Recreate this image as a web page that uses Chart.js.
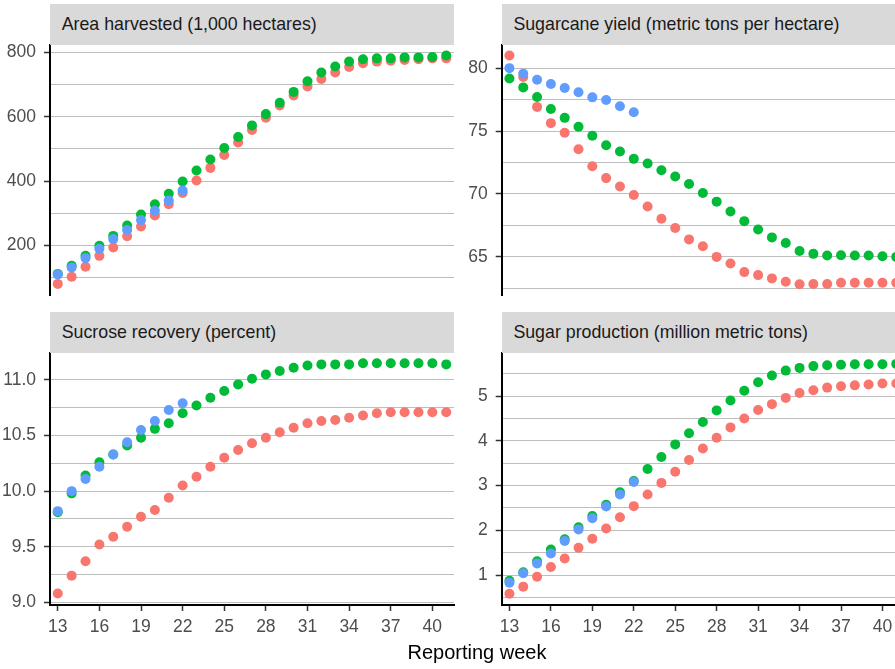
<!DOCTYPE html>
<html>
<head>
<meta charset="utf-8">
<title>Sugarcane harvest progress by reporting week</title>
<script src="https://cdn.jsdelivr.net/npm/chart.js@4.4.1/dist/chart.umd.min.js"></script>
<style>
  html, body { margin: 0; padding: 0; background: #ffffff; }
  body {
    width: 895px; height: 669px; overflow: hidden; position: relative;
    font-family: "Liberation Sans", Arial, sans-serif;
  }
  canvas { position: absolute; }
  .strip {
    position: absolute; background: #D9D9D9; color: #1A1A1A;
    font-size: 17.8px; height: 40.7px; line-height: 40.7px;
    padding-left: 11.7px; box-sizing: border-box; white-space: nowrap;
  }
  #xtitle {
    position: absolute; left: 327px; width: 300px; top: 640px;
    text-align: center; font-size: 20px; line-height: 24px; color: #000000;
  }
</style>
</head>
<body>
<canvas id="area" width="460" height="300" style="left:0;top:0"></canvas>
<canvas id="yield" width="460" height="300" style="left:450px;top:0"></canvas>
<canvas id="sucrose" width="460" height="340" style="left:0;top:310px"></canvas>
<canvas id="sugar" width="460" height="340" style="left:450px;top:310px"></canvas>

<div class="strip" style="left:50px;top:4.3px;width:404px">Area harvested (1,000 hectares)</div>
<div class="strip" style="left:501.7px;top:4.3px;width:402.3px">Sugarcane yield (metric tons per hectare)</div>
<div class="strip" style="left:50px;top:312px;width:404px">Sucrose recovery (percent)</div>
<div class="strip" style="left:501.7px;top:312px;width:402.3px">Sugar production (million metric tons)</div>
<div id="xtitle">Reporting week</div>

<script>
// Reporting weeks shared by every panel
const weeks = [13, 14, 15, 16, 17, 18, 19, 20, 21, 22, 23, 24, 25, 26, 27,
               28, 29, 30, 31, 32, 33, 34, 35, 36, 37, 38, 39, 40, 41];
const weekTicks = [13, 16, 19, 22, 25, 28, 31, 34, 37, 40];

// Area harvested (1,000 hectares)
const areaPrev2   = [81, 103, 134, 168, 194, 229, 259, 293, 328, 363, 402, 441, 481, 520, 559,
                     597, 635, 666, 694, 717, 737, 754, 766, 771, 774, 776, 778, 781, 781];
const areaPrev1   = [112, 137, 168, 199, 230, 262, 296, 328, 361, 399, 433, 467, 503, 537, 573,
                     608, 643, 677, 710, 737, 756, 771, 778, 781, 781, 784, 784, 785, 790];
const areaCurrent = [110, 132, 161, 190, 220, 248, 279, 308, 340, 371];
const areaTicks   = [200, 400, 600, 800];

// Sugarcane yield (metric tons per hectare)
const yieldPrev2   = [81.0, 79.29, 76.92, 75.63, 74.87, 73.55, 72.21, 71.26, 70.6, 69.92, 69.0, 68.03,
                      67.29, 66.39, 65.84, 65.0, 64.47, 63.79, 63.55, 63.29, 63.03, 62.82, 62.84, 62.84,
                      62.95, 62.95, 62.95, 62.95, 62.95];
const yieldPrev1   = [79.18, 78.47, 77.71, 76.76, 76.05, 75.34, 74.63, 73.87, 73.37, 72.79, 72.42, 71.89,
                      71.39, 70.79, 70.08, 69.39, 68.61, 67.84, 67.18, 66.55, 66.11, 65.47, 65.24, 65.11,
                      65.13, 65.11, 65.11, 65.05, 65.0];
const yieldCurrent = [80.0, 79.55, 79.08, 78.74, 78.42, 78.08, 77.68, 77.47, 76.97, 76.5];
const yieldTicks   = [65, 70, 75, 80];

// Sucrose recovery (percent)
const sucrosePrev2   = [9.08, 9.24, 9.37, 9.52, 9.59, 9.68, 9.77, 9.83, 9.94, 10.05, 10.13, 10.22,
                        10.30, 10.37, 10.43, 10.48, 10.53, 10.57, 10.61, 10.63, 10.64, 10.66, 10.68,
                        10.70, 10.71, 10.71, 10.71, 10.71, 10.71];
const sucrosePrev1   = [9.81, 9.98, 10.14, 10.26, 10.33, 10.41, 10.48, 10.56, 10.61, 10.70, 10.77, 10.84,
                        10.90, 10.96, 11.01, 11.05, 11.08, 11.11, 11.13, 11.14, 11.14, 11.14, 11.15,
                        11.15, 11.15, 11.15, 11.15, 11.15, 11.14];
const sucroseCurrent = [9.82, 10.0, 10.11, 10.22, 10.33, 10.44, 10.55, 10.63, 10.73, 10.79];
const sucroseTicks   = [9.0, 9.5, 10.0, 10.5, 11.0];

// Sugar production (million metric tons)
const sugarPrev2   = [0.58, 0.74, 0.96, 1.18, 1.37, 1.61, 1.81, 2.04, 2.29, 2.54, 2.80, 3.06, 3.31,
                      3.57, 3.83, 4.07, 4.30, 4.50, 4.69, 4.82, 4.96, 5.07, 5.13, 5.19, 5.22, 5.24,
                      5.26, 5.28, 5.28];
const sugarPrev1   = [0.87, 1.06, 1.31, 1.57, 1.80, 2.07, 2.32, 2.57, 2.85, 3.10, 3.37, 3.64, 3.92,
                      4.17, 4.42, 4.68, 4.90, 5.12, 5.31, 5.46, 5.57, 5.63, 5.67, 5.69, 5.70, 5.71,
                      5.71, 5.71, 5.72];
const sugarCurrent = [0.83, 1.04, 1.26, 1.48, 1.76, 2.02, 2.27, 2.53, 2.80, 3.08];
const sugarTicks   = [1, 2, 3, 4, 5];

const FONT = "'Liberation Sans', Arial, sans-serif";
const RED = '#F8766D', GREEN = '#00BA38', BLUE = '#619CFF';

function points(values) {
  return values.map((v, i) => ({ x: weeks[i], y: v }));
}

// keep edge labels from shrinking the plotting area
function noEdgePadding(s) {
  s.paddingTop = 0; s.paddingBottom = 0; s.paddingLeft = 0; s.paddingRight = 0;
}

function buildPanel(id, cfg) {
  const majors = cfg.ticks;
  const half = (majors[1] - majors[0]) / 2;
  // major breaks plus the unlabelled breaks halfway between them
  const breaks = [];
  for (let v = majors[0] - half; v <= cfg.max + 1e-9; v += half) {
    if (v >= cfg.min) breaks.push(+v.toFixed(6));
  }
  const isMajor = v => majors.some(m => Math.abs(m - v) < 1e-6);

  const dot = { pointRadius: 5, pointHoverRadius: 5, borderWidth: 0, showLine: false };

  const xScale = {
    type: 'linear',
    min: 12.44,
    max: 41.56,
    display: cfg.showX,
    afterBuildTicks: s => { s.ticks = weekTicks.map(v => ({ value: v })); },
    afterFit: s => {
      noEdgePadding(s);
      // only the bottom row carries a week axis
      if (cfg.showX) s.height = 45;
    },
    ticks: {
      autoSkip: false, maxRotation: 0, padding: 6,
      color: '#4D4D4D', font: { family: FONT, size: 17.5 },
      callback: v => String(v)
    },
    grid: { drawOnChartArea: false, tickLength: 6, tickWidth: 1.5, tickColor: '#333333' },
    border: { display: true, color: '#000000', width: 2 }
  };

  new Chart(document.getElementById(id), {
    type: 'scatter',
    data: {
      datasets: [
        { label: 'prev2', data: points(cfg.series[0]), backgroundColor: RED, order: 2, ...dot },
        { label: 'prev1', data: points(cfg.series[1]), backgroundColor: GREEN, order: 1, ...dot },
        { label: 'current', data: points(cfg.series[2]), backgroundColor: BLUE, order: 0, ...dot }
      ]
    },
    options: {
      responsive: false,
      devicePixelRatio: 1,
      animation: false,
      events: [],
      layout: { padding: cfg.padding },
      plugins: { legend: { display: false }, tooltip: { enabled: false } },
      scales: {
        x: xScale,
        y: {
          type: 'linear',
          min: cfg.min,
          max: cfg.max,
          afterBuildTicks: s => { s.ticks = breaks.map(v => ({ value: v })); },
          afterFit: s => { s.width = cfg.axisWidth; noEdgePadding(s); },
          ticks: {
            autoSkip: false, padding: 8,
            color: '#4D4D4D', font: { family: FONT, size: 17.5 },
            callback: v => isMajor(v) ? cfg.fmt(v) : ''
          },
          grid: {
            color: '#BEBEBE', lineWidth: 1,
            tickLength: 6, tickWidth: 1.5,
            tickColor: ctx => (ctx.tick && isMajor(ctx.tick.value)) ? '#333333' : 'rgba(0,0,0,0)'
          },
          border: { display: true, color: '#000000', width: 2 }
        }
      }
    }
  });
}

const intFmt = v => String(Math.round(v));
const oneDec = v => v.toFixed(1);

buildPanel('area', {
  series: [areaPrev2, areaPrev1, areaCurrent], ticks: areaTicks,
  min: 46.5, max: 822.5, fmt: intFmt, showX: false, axisWidth: 50,
  padding: { top: 45, right: 6, bottom: 3.3, left: 0 }
});
buildPanel('yield', {
  series: [yieldPrev2, yieldPrev1, yieldCurrent], ticks: yieldTicks,
  min: 61.97, max: 81.84, fmt: intFmt, showX: false, axisWidth: 51.7,
  padding: { top: 45, right: 6, bottom: 3.3, left: 0 }
});
buildPanel('sucrose', {
  series: [sucrosePrev2, sucrosePrev1, sucroseCurrent], ticks: sucroseTicks,
  min: 8.976, max: 11.245, fmt: oneDec, showX: true, axisWidth: 50,
  padding: { top: 42.7, right: 6, bottom: 0, left: 0 }
});
buildPanel('sugar', {
  series: [sugarPrev2, sugarPrev1, sugarCurrent], ticks: sugarTicks,
  min: 0.33, max: 5.97, fmt: intFmt, showX: true, axisWidth: 51.7,
  padding: { top: 42.7, right: 6, bottom: 0, left: 0 }
});
</script>
</body>
</html>
